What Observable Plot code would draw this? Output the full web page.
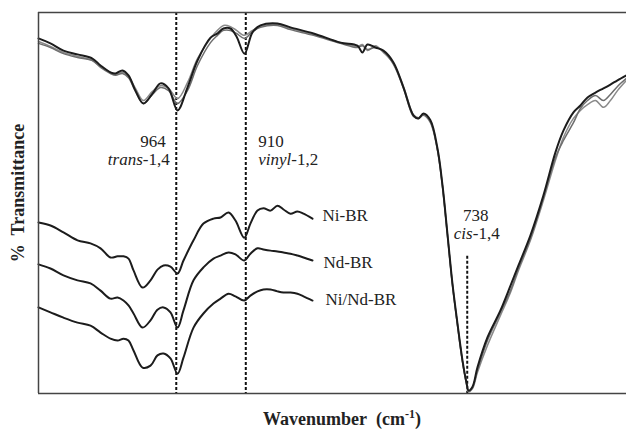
<!DOCTYPE html>
<html><head><meta charset="utf-8">
<script src="https://cdn.jsdelivr.net/npm/d3@7"></script>
<script src="https://cdn.jsdelivr.net/npm/@observablehq/plot@0.6"></script>
<style>
html,body{margin:0;padding:0;background:#fff;}
#chart svg{display:block;}
#chart svg text, #chart svg tspan{font-family:"Liberation Serif","DejaVu Serif",serif !important;}
</style></head><body><div id="chart"></div>
<script>
// ---- data (wavenumber in cm-1, transmittance in arbitrary % units) ----
const topWavenumber = [1071.0, 1061.7, 1051.6, 1040.7, 1029.1, 1022.8, 1015.1, 1011.2, 1005.8, 1001.1, 995.7, 989.5, 982.5, 976.3, 970.0, 963.0, 955.3, 947.5, 937.4, 932.0, 927.3, 921.9, 917.2, 911.0, 904.8, 898.6, 885.4, 875.3, 857.4, 836.5, 823.3, 819.4, 815.5, 809.3, 803.1, 795.3, 787.5, 779.8, 775.9, 772.0, 766.6, 761.1, 757.2, 753.4, 749.5, 745.6, 741.7, 738.6, 737.0, 733.9, 730.1, 722.3, 712.2, 704.4, 698.2, 688.9, 678.8, 669.5, 663.3, 655.5, 650.1, 644.6, 638.4, 632.2, 626.8, 621.3, 614.3];
const topNiBR = [93.2, 91.9, 90.0, 89.0, 87.9, 86.1, 84.3, 84.0, 84.8, 83.5, 79.5, 76.1, 78.7, 81.4, 80.1, 74.3, 80.3, 87.4, 93.4, 94.5, 95.8, 95.8, 93.7, 89.2, 94.8, 96.6, 97.1, 96.1, 94.5, 92.1, 91.3, 89.5, 91.6, 90.8, 90.0, 86.9, 80.3, 73.0, 72.2, 73.5, 71.7, 64.3, 54.6, 42.0, 28.9, 18.4, 8.7, 2.9, 0.8, 1.8, 6.8, 14.7, 21.8, 28.3, 33.6, 41.5, 52.0, 63.3, 69.0, 73.8, 75.6, 77.7, 79.0, 80.1, 81.1, 82.2, 83.5];
const topNdBR = [92.4, 91.1, 89.5, 88.5, 87.4, 85.8, 84.3, 83.7, 84.3, 83.2, 80.1, 76.9, 79.3, 80.8, 80.1, 77.4, 81.6, 87.9, 93.2, 95.3, 96.6, 96.3, 95.3, 94.0, 95.3, 96.3, 96.9, 95.8, 94.2, 92.1, 91.1, 91.6, 90.0, 91.3, 89.5, 86.6, 80.6, 73.2, 72.4, 73.2, 71.4, 64.0, 54.3, 41.7, 28.6, 18.1, 8.4, 2.6, 0.5, 1.3, 5.5, 12.6, 20.5, 26.5, 32.3, 40.2, 50.7, 61.2, 67.2, 72.2, 74.3, 75.8, 76.9, 75.1, 76.9, 79.5, 82.2];
const topNiNdBR = [91.9, 90.8, 89.2, 88.2, 87.4, 85.6, 84.0, 83.5, 84.0, 82.9, 79.3, 76.1, 78.5, 80.3, 79.5, 76.1, 79.5, 86.1, 92.1, 94.0, 95.3, 95.3, 94.5, 93.2, 95.0, 96.1, 96.6, 95.5, 94.0, 91.9, 90.8, 91.3, 90.3, 90.8, 89.8, 86.4, 80.1, 72.7, 72.2, 73.0, 71.1, 63.8, 54.3, 41.7, 28.6, 18.1, 8.4, 2.6, 0.5, 1.6, 6.0, 13.9, 21.3, 27.0, 32.8, 40.7, 51.4, 61.9, 66.4, 71.1, 74.8, 76.9, 78.2, 76.9, 78.5, 80.6, 82.7];

const stackWavenumber = [1071.0, 1061.7, 1051.6, 1040.7, 1030.6, 1022.8, 1015.1, 1009.6, 1005.0, 1001.1, 997.2, 990.2, 984.0, 978.6, 973.9, 968.5, 963.0, 958.4, 950.6, 942.9, 935.1, 929.6, 923.4, 918.0, 911.2, 906.4, 900.9, 896.3, 890.8, 885.4, 880.7, 875.3, 869.9, 865.2, 858.2];
const stackNiBR = [44.9, 44.1, 42.3, 40.2, 39.4, 38.1, 35.7, 36.0, 36.0, 35.4, 32.3, 27.8, 29.7, 32.5, 33.6, 33.3, 31.5, 34.9, 40.2, 44.6, 45.9, 46.2, 47.5, 45.4, 40.9, 44.6, 48.0, 48.6, 48.0, 49.3, 48.3, 47.2, 47.8, 47.2, 45.9];
const stackNdBR = [33.9, 32.8, 31.0, 29.7, 28.9, 27.0, 24.9, 25.2, 24.4, 23.1, 21.0, 17.3, 19.2, 22.0, 22.6, 21.3, 17.3, 21.8, 29.7, 33.1, 35.4, 36.2, 37.0, 36.5, 34.9, 36.7, 38.1, 37.8, 37.5, 37.3, 37.0, 36.7, 36.2, 35.7, 34.9];
const stackNiNdBR = [22.6, 21.3, 19.9, 18.6, 17.8, 16.0, 14.4, 13.9, 14.4, 13.9, 11.3, 6.8, 7.3, 10.0, 10.5, 9.2, 5.2, 9.4, 17.3, 21.0, 23.6, 24.9, 26.2, 25.5, 24.4, 25.7, 26.8, 27.3, 27.3, 26.8, 26.5, 26.5, 26.2, 25.5, 24.4];

const seriesNames = ["Ni-BR", "Nd-BR", "Ni/Nd-BR"];
const bandPositions = [964, 910, 738];
const bandNumbers = ["964", "910", "738"];
const bandGroups = ["trans", "vinyl", "cis"];
const bandSuffix = ["-1,4", "-1,2", "-1,4"];
const xDomain = [1071, 614.3];
const yDomain = [0, 100];
const xTitle = "Wavenumber";
const yTitle = "% Transmittance";

// ---- build tables ----
const rows = (xs, ys) => xs.map((w, i) => ({wn: w, t: ys[i]}));
const stacks = [stackNiBR, stackNdBR, stackNiNdBR].map(s => rows(stackWavenumber, s));
const serif = "\"Liberation Serif\", \"DejaVu Serif\", serif";
const ends = stacks.map((s, i) => ({...s[s.length - 1], name: seriesNames[i]}));
const labelDy = [-3, 2, -1];
const labelDx = [10, 11, 13];

const lineOpts = {x: "wn", y: "t", curve: "catmull-rom", strokeLinejoin: "round"};
const chart = Plot.plot({
  width: 626, height: 429,
  marginLeft: 38, marginRight: 0, marginTop: 12, marginBottom: 36,
  style: {background: "#fff", fontFamily: serif},
  x: {domain: xDomain, axis: null},
  y: {domain: yDomain, axis: null},
  marks: [
    Plot.ruleX(bandPositions.slice(0, 2), {stroke: "#111", strokeWidth: 2, strokeDasharray: "3,2"}),
    Plot.ruleX(bandPositions.slice(2), {y1: 36, y2: 0, stroke: "#111", strokeWidth: 2, strokeDasharray: "3,2"}),
    Plot.line(rows(topWavenumber, topNdBR), {...lineOpts, stroke: "#8a8a8a", strokeWidth: 1.5}),
    Plot.line(rows(topWavenumber, topNiNdBR), {...lineOpts, stroke: "#6e6e6e", strokeWidth: 1.5}),
    Plot.line(rows(topWavenumber, topNiBR), {...lineOpts, stroke: "#1c1c1c", strokeWidth: 2}),
    ...stacks.map(s => Plot.line(s, {...lineOpts, stroke: "#1c1c1c", strokeWidth: 2})),
    Plot.ruleY([yDomain[0]], {stroke: "#444", strokeWidth: 1.5}),
    Plot.ruleY([yDomain[1]], {stroke: "#444", strokeWidth: 1.5}),
    Plot.ruleX([xDomain[0]], {stroke: "#444", strokeWidth: 1.5}),
    ...ends.map((e, i) => Plot.text([e], {x: "wn", y: "t", text: "name", dx: labelDx[i], dy: labelDy[i],
      textAnchor: "start", fontSize: 17, fontFamily: serif, fill: "#222"}))
  ]
});
document.getElementById("chart").appendChild(chart);

// ---- annotations with mixed italic ----
const svg = d3.select(chart);
const xs = chart.scale("x");
function label(x, y, anchor, parts, opts = {}) {
  const t = svg.append("text").attr("x", x).attr("y", y).attr("text-anchor", anchor)
    .attr("font-family", serif).attr("font-size", opts.size || 17).attr("fill", "#222");
  if (opts.weight) t.attr("font-weight", opts.weight);
  if (opts.transform) t.attr("transform", opts.transform);
  parts.forEach(p => {
    const ts = t.append("tspan").text(p.s);
    if (p.i) ts.attr("font-style", "italic");
    if (p.dy) ts.attr("dy", p.dy);
    if (p.size) ts.attr("font-size", p.size);
  });
  return t;
}
const bx = bandPositions.map(b => xs.apply(b));
label(bx[0] - 10, 147, "end", [{s: bandNumbers[0]}]);
label(bx[0] - 6, 165, "end", [{s: bandGroups[0], i: true}, {s: bandSuffix[0]}]);
label(bx[1] + 13, 147, "start", [{s: bandNumbers[1]}]);
label(bx[1] + 13, 165, "start", [{s: bandGroups[1], i: true}, {s: bandSuffix[1]}]);
label(bx[2] + 9, 221, "middle", [{s: bandNumbers[2]}]);
label(bx[2] + 10, 239, "middle", [{s: bandGroups[2], i: true}, {s: bandSuffix[2]}]);

// axis titles
label(342, 425, "middle", [{s: xTitle + "\u00a0 (cm"}, {s: "-1", dy: -7, size: 12}, {s: ")", dy: 7, size: 18}], {size: 18, weight: "bold"});
label(0, 0, "middle", [{s: yTitle.replace(" ", "\u00a0 ")}], {size: 18, weight: "bold", transform: "translate(24,193) rotate(-90)"});
</script>
</body></html>
